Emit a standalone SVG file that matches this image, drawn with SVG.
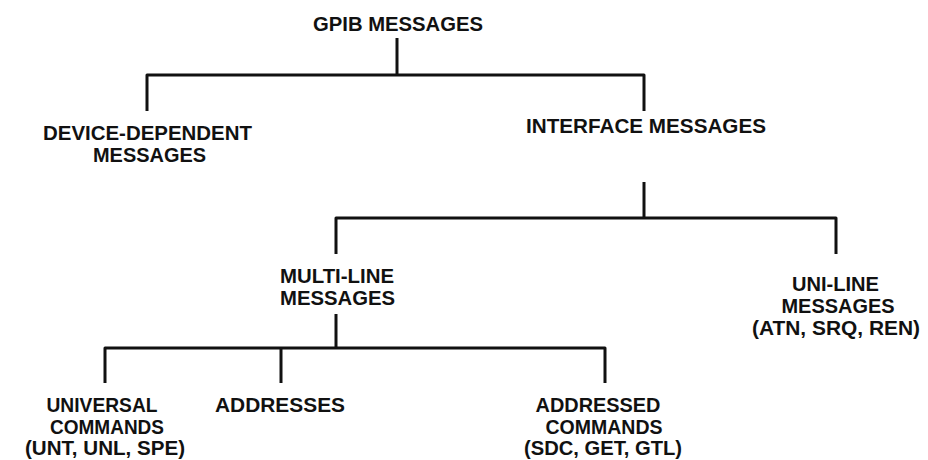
<svg xmlns="http://www.w3.org/2000/svg" width="928" height="460" viewBox="0 0 928 460">
<style>
.t{font-family:"Liberation Sans",Arial,sans-serif;font-size:20px;font-weight:bold;fill:#111;text-anchor:middle}
.c{fill:none;stroke:#111;stroke-width:3;stroke-linejoin:round;stroke-linecap:butt}
</style>
<rect width="928" height="460" fill="#fff"/>
<g id="connectors">
<path class="c" d="M397,38 V75"/>
<path class="c" d="M147,111 V75 H644 V111"/>
<path class="c" d="M644,182 V218"/>
<path class="c" d="M336,254 V218 H836 V254"/>
<path class="c" d="M336,314 V348"/>
<path class="c" d="M105,383 V348 H605 V383"/>
<path class="c" d="M281,348 V383"/>
</g>
<g id="gpib-messages">
<text class="t" x="398" y="31" textLength="170" lengthAdjust="spacingAndGlyphs">GPIB MESSAGES</text>
</g>
<g id="device-dependent">
<text class="t" x="147.5" y="140" textLength="209" lengthAdjust="spacingAndGlyphs">DEVICE-DEPENDENT</text>
<text class="t" x="149.5" y="162" textLength="113" lengthAdjust="spacingAndGlyphs">MESSAGES</text>
</g>
<g id="interface-messages">
<text class="t" x="646" y="133" textLength="240" lengthAdjust="spacingAndGlyphs">INTERFACE MESSAGES</text>
</g>
<g id="multi-line">
<text class="t" x="337" y="283" textLength="114" lengthAdjust="spacingAndGlyphs">MULTI-LINE</text>
<text class="t" x="337.5" y="305" textLength="115" lengthAdjust="spacingAndGlyphs">MESSAGES</text>
</g>
<g id="uni-line">
<text class="t" x="835.5" y="291" textLength="87" lengthAdjust="spacingAndGlyphs">UNI-LINE</text>
<text class="t" x="838" y="313" textLength="113" lengthAdjust="spacingAndGlyphs">MESSAGES</text>
<text class="t" x="836" y="335" textLength="168" lengthAdjust="spacingAndGlyphs">(ATN, SRQ, REN)</text>
</g>
<g id="universal-commands">
<text class="t" x="102" y="412" textLength="111" lengthAdjust="spacingAndGlyphs">UNIVERSAL</text>
<text class="t" x="107" y="434" textLength="114" lengthAdjust="spacingAndGlyphs">COMMANDS</text>
<text class="t" x="105" y="455" textLength="160" lengthAdjust="spacingAndGlyphs">(UNT, UNL, SPE)</text>
</g>
<g id="addresses">
<text class="t" x="280" y="412" textLength="130" lengthAdjust="spacingAndGlyphs">ADDRESSES</text>
</g>
<g id="addressed-commands">
<text class="t" x="598" y="412" textLength="125" lengthAdjust="spacingAndGlyphs">ADDRESSED</text>
<text class="t" x="604" y="434" textLength="117" lengthAdjust="spacingAndGlyphs">COMMANDS</text>
<text class="t" x="603" y="455" textLength="158" lengthAdjust="spacingAndGlyphs">(SDC, GET, GTL)</text>
</g>
</svg>
